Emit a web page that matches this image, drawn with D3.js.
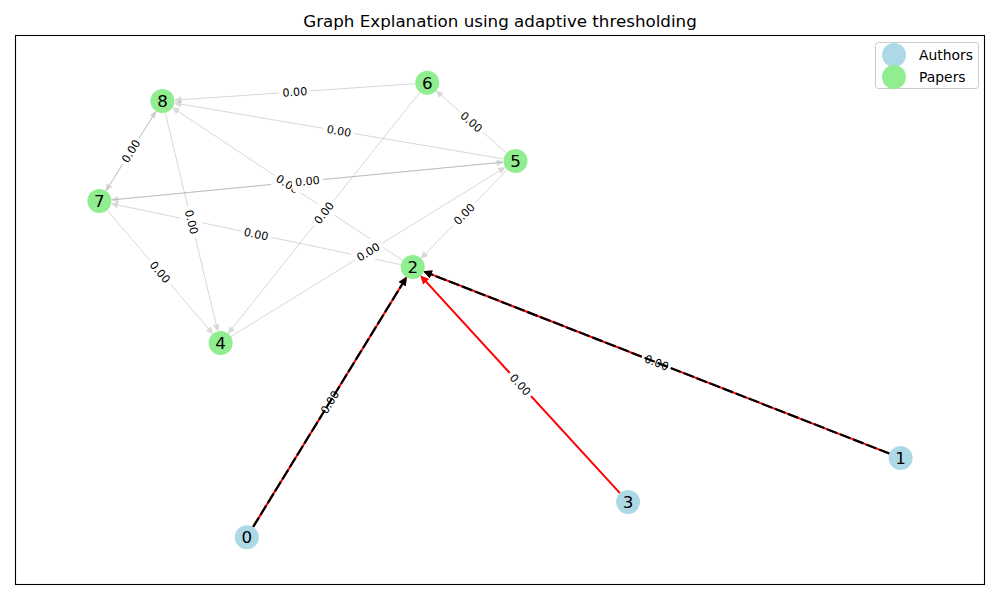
<!DOCTYPE html>
<html>
<head>
<meta charset="utf-8">
<script src="https://cdnjs.cloudflare.com/ajax/libs/d3/7.8.5/d3.min.js"></script>
<style>
  body { margin: 0; background: #fff; }
  svg { display: block; font-family: "DejaVu Sans", sans-serif; }
</style>
</head>
<body>
<svg id="chart" width="1000" height="600"></svg>
<script>
// --- data ---
const chartTitle = 'Graph Explanation using adaptive thresholding';
const nodeIds = [0, 1, 2, 3, 4, 5, 6, 7, 8];
const nodeKinds = ['Authors', 'Authors', 'Papers', 'Authors', 'Papers', 'Papers', 'Papers', 'Papers', 'Papers'];
// layout positions (0..1 inside the axes)
const nodeX = [0.239, 0.913, 0.410, 0.632, 0.212, 0.516, 0.425, 0.087, 0.152];
const nodeY = [0.087, 0.231, 0.578, 0.151, 0.440, 0.771, 0.913, 0.698, 0.880];

const paperEdges = [[6, 8], [5, 8], [7, 8], [8, 7], [8, 4], [7, 4], [6, 4], [2, 8], [2, 7], [4, 5], [7, 5], [5, 7], [5, 6], [5, 2]];
const paperWeights = [0, 0, 0, 0, 0, 0, 0, 0, 0, 0, 0, 0, 0, 0];
const authorEdges = [[0, 2], [3, 2], [1, 2]];
const authorWeights = [0, 0, 0];
const keptEdges = [[0, 2], [1, 2]];
const keptWeights = [0, 0];
const legendLabels = ['Authors', 'Papers'];
const legendColors = ['#add8e6', '#90ee90'];

// --- setup ---
const svg = d3.select('#chart');
const W = 1000, H = 600;
const box = { left: 15, top: 35, right: 985, bottom: 585 };
const x = d3.scaleLinear().domain([0, 1]).range([box.left, box.right]);
const y = d3.scaleLinear().domain([0, 1]).range([box.bottom, box.top]);
const kindColor = d3.scaleOrdinal().domain(legendLabels).range(legendColors);
const fmt = d3.format('.2f');
const nodeR = 12;

svg.append('rect').attr('width', W).attr('height', H).attr('fill', '#fff');

svg.append('text')
  .attr('x', W / 2).attr('y', 27)
  .attr('text-anchor', 'middle')
  .attr('font-size', '16.7px')
  .text(chartTitle);

svg.append('rect')
  .attr('x', box.left + 0.5).attr('y', box.top + 0.5)
  .attr('width', box.right - box.left - 1).attr('height', box.bottom - box.top - 1)
  .attr('fill', 'none').attr('stroke', '#000').attr('stroke-width', 1.1);

function geom(a, b) {
  const sx = x(nodeX[a]), sy = y(nodeY[a]);
  const tx = x(nodeX[b]), ty = y(nodeY[b]);
  const len = Math.hypot(tx - sx, ty - sy);
  const ux = (tx - sx) / len, uy = (ty - sy) / len;
  return { sx, sy, tx, ty, ux, uy };
}

// one edge = line + filled head, grouped so alpha is applied once
function drawEdges(layer, edges, o) {
  edges.forEach(([a, b]) => {
    const g = geom(a, b);
    const shrink = nodeR + o.width / 2;
    const x1 = g.sx + g.ux * nodeR, y1 = g.sy + g.uy * nodeR;
    const tipX = g.tx - g.ux * shrink, tipY = g.ty - g.uy * shrink;
    const bx = tipX - g.ux * o.headLen, by = tipY - g.uy * o.headLen;
    const e = layer.append('g').attr('opacity', o.alpha);
    e.append('line')
      .attr('x1', x1).attr('y1', y1).attr('x2', bx + g.ux * 1).attr('y2', by + g.uy * 1)
      .attr('stroke', o.color).attr('stroke-width', o.width)
      .attr('stroke-dasharray', o.dash || null);
    const px = -g.uy, py = g.ux;
    e.append('path')
      .attr('d', `M${tipX},${tipY}L${bx + px * o.headW},${by + py * o.headW}L${bx - px * o.headW},${by - py * o.headW}Z`)
      .attr('fill', o.color).attr('stroke', o.color)
      .attr('stroke-width', o.width * 0.8).attr('stroke-linejoin', 'miter');
  });
}

function drawLabels(layer, edges, weights) {
  edges.forEach(([a, b], i) => {
    const g = geom(a, b);
    let ang = Math.atan2(g.ty - g.sy, g.tx - g.sx) * 180 / Math.PI;
    if (ang > 90) ang -= 180;
    if (ang < -90) ang += 180;
    const lg = layer.append('g')
      .attr('transform', `translate(${(g.sx + g.tx) / 2},${(g.sy + g.ty) / 2}) rotate(${ang})`);
    const rect = lg.append('rect').attr('fill', '#fff');
    const t = lg.append('text')
      .attr('text-anchor', 'middle').attr('dy', '0.36em')
      .attr('font-size', '11.1px').attr('fill', '#000')
      .text(fmt(weights[i]));
    const tw = t.node().getComputedTextLength();
    const pad = 3.3, th = 13;
    rect.attr('x', -tw / 2 - pad).attr('y', -th / 2 - pad)
      .attr('width', tw + pad * 2).attr('height', th + pad * 2)
      .attr('rx', pad).attr('ry', pad);
  });
}

const edgeLayer = svg.append('g');
drawEdges(edgeLayer, paperEdges, { color: '#808080', width: 1, alpha: 0.3, headLen: 6, headW: 2.8 });
drawEdges(edgeLayer, authorEdges, { color: '#ff0000', width: 2, alpha: 1, headLen: 6, headW: 2.8 });

const labelLayer = svg.append('g');
drawLabels(labelLayer, paperEdges, paperWeights);
drawLabels(labelLayer, authorEdges, authorWeights);
drawLabels(labelLayer, keptEdges, keptWeights);

// kept (explanation) edges are drawn dashed over everything else
const keptLayer = svg.append('g');
drawEdges(keptLayer, keptEdges, { color: '#000', width: 2.2, alpha: 1, headLen: 6, headW: 2.8, dash: '11,3' });

// --- nodes ---
const node = svg.append('g').selectAll('g')
  .data(nodeIds)
  .join('g')
  .attr('transform', d => `translate(${x(nodeX[d])},${y(nodeY[d])})`);

node.append('circle')
  .attr('r', nodeR)
  .attr('fill', d => kindColor(nodeKinds[d]));

node.append('text')
  .attr('text-anchor', 'middle')
  .attr('dy', '0.36em')
  .attr('font-size', '16.7px')
  .attr('fill', '#000')
  .text(d => d);

// --- legend ---
const legend = svg.append('g').attr('transform', 'translate(875,42)');
legend.append('rect')
  .attr('x', 0.5).attr('y', 0.5).attr('width', 103).attr('height', 46)
  .attr('rx', 3).attr('fill', '#fff').attr('fill-opacity', 0.8)
  .attr('stroke', '#cccccc').attr('stroke-width', 1);
const item = legend.selectAll('g.item')
  .data(legendLabels)
  .join('g').attr('class', 'item')
  .attr('transform', (d, i) => `translate(0,${13 + i * 22})`);
item.append('circle')
  .attr('cx', 19).attr('cy', 0).attr('r', nodeR)
  .attr('fill', d => kindColor(d));
item.append('text')
  .attr('x', 44).attr('dy', '0.36em')
  .attr('font-size', '13.9px')
  .text(d => d);
</script>
</body>
</html>
